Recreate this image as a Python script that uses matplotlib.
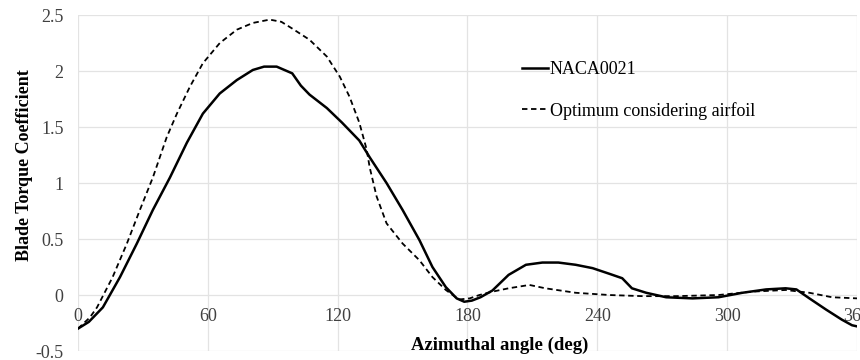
import numpy as np
import matplotlib.pyplot as plt

plt.rcParams['font.family'] = ['Liberation Serif', 'DejaVu Serif']

# NACA0021 blade torque coefficient
naca_x = [0, 5, 11.5, 19.4, 27.2, 34.6, 42.5, 50.3, 57.7, 65.5, 73.4, 80.8, 86, 91.8,
          99, 103, 107, 115, 122, 130, 134.8, 142.6, 150, 157.8, 163.8, 170, 175,
          178.5, 182, 186, 191.5, 199, 207, 214.6, 222, 230, 237.8, 245.5, 251.5,
          254, 256, 262.6, 271.8, 284, 296, 307, 318, 327, 332, 338, 345.7, 353,
          357.7, 360]
naca_y = [-0.30, -0.24, -0.11, 0.16, 0.46, 0.76, 1.05, 1.36, 1.62, 1.80, 1.92, 2.01, 2.04, 2.04,
          1.98, 1.87, 1.79, 1.67, 1.54, 1.38, 1.23, 1.00, 0.76, 0.49, 0.25, 0.07, -0.03,
          -0.06, -0.05, -0.02, 0.04, 0.18, 0.27, 0.29, 0.29, 0.27, 0.24, 0.19, 0.15,
          0.10, 0.06, 0.02, -0.02, -0.03, -0.02, 0.02, 0.05, 0.06, 0.05, -0.03, -0.13, -0.22,
          -0.27, -0.28]

# optimum considering airfoil
opt_x = [0, 5.5, 8.8, 16, 22.6, 28.6, 34.6, 41, 45.7, 51.7, 57.7, 65.5, 73.4, 80.8, 88.6,
         94, 99, 107, 115, 121, 125.5, 130, 133.4, 134.8, 138, 142.6, 150, 157.8, 163.8,
         170, 176, 181, 185.5, 191.5, 199, 208.6, 216, 230, 245.5, 260.8, 276.5, 296,
         311.5, 327, 338, 348.5, 360]
opt_y = [-0.30, -0.20, -0.11, 0.16, 0.46, 0.76, 1.05, 1.41, 1.62, 1.86, 2.07, 2.25, 2.37, 2.43, 2.46,
         2.44, 2.38, 2.28, 2.13, 1.95, 1.77, 1.54, 1.30, 1.14, 0.88, 0.64, 0.46, 0.31, 0.16,
         0.045, -0.04, -0.03, 0.0, 0.03, 0.06, 0.09, 0.06, 0.02, 0.0, -0.01, -0.01, 0.0,
         0.03, 0.045, 0.02, -0.02, -0.03]

xticks = [0, 60, 120, 180, 240, 300, 360]
yticks = [-0.5, 0, 0.5, 1, 1.5, 2, 2.5]
ytick_labels = ['-0.5', '0', '0.5', '1', '1.5', '2', '2.5']

fig = plt.figure(figsize=(8.6, 3.6), dpi=100)
ax = fig.add_axes([0.0907, 0.025, 0.9058, 0.933])

ax.plot(naca_x, naca_y, color='black', lw=1.8, label='NACA0021')
ax.plot(opt_x, opt_y, color='black', lw=1.3, linestyle=(0, (3, 2)),
        label='Optimum considering airfoil')

ax.set_xlim(0, 360)
ax.set_ylim(-0.5, 2.5)
ax.set_xticks(xticks)
ax.set_yticks(yticks)
ax.set_yticklabels(ytick_labels)
ax.grid(True, color='#e3e3e3', lw=0.9)
ax.set_axisbelow(True)

# excel style: no frame, x labels sit under the zero line
for s in ax.spines.values():
    s.set_visible(False)
ax.spines['bottom'].set_position(('data', 0))
ax.tick_params(axis='both', length=0, labelsize=13, labelcolor='#404040')
ax.tick_params(axis='x', pad=9.5)
ax.tick_params(axis='y', pad=10.5)

fig.text(25 / 860, 1 - 165 / 360, 'Blade Torque Coefficient', rotation=90,
         ha='center', va='center', fontsize=13, fontweight='bold')
fig.text(500 / 860, 1 - 345 / 360, 'Azimuthal angle (deg)',
         ha='center', va='center', fontsize=13.5, fontweight='bold')

ax.legend(loc='upper left', bbox_to_anchor=(0.570, 0.862), frameon=False,
          fontsize=13, handlelength=1.45, handletextpad=0.1, labelspacing=1.3,
          borderpad=0, borderaxespad=0)

fig.savefig('out.png', dpi=100)
